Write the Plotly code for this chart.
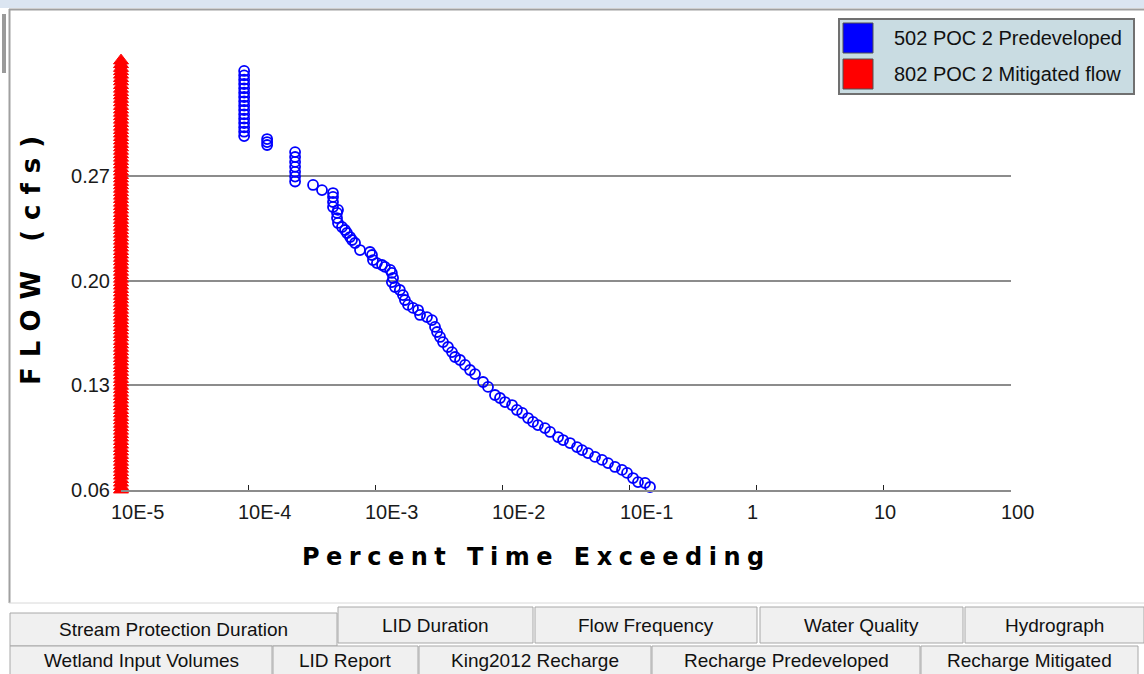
import plotly.graph_objects as go
import numpy as np

# ---------------- data ----------------
series_names = ["502 POC 2 Predeveloped", "802 POC 2 Mitigated flow"]
series_colors = ["#0000ff", "#ff0000"]

pred_percent = [
    1.0e-5,
    9.3e-5, 9.3e-5, 9.3e-5, 9.3e-5, 9.3e-5, 9.3e-5, 9.3e-5, 9.3e-5,
    9.3e-5, 9.3e-5, 9.3e-5, 9.3e-5, 9.3e-5, 9.3e-5, 9.3e-5, 9.3e-5,
    1.41e-4, 1.41e-4, 1.41e-4,
    2.34e-4, 2.34e-4, 2.34e-4, 2.34e-4, 2.34e-4, 2.34e-4, 2.34e-4,
    3.24e-4, 3.81e-4,
    4.65e-4, 4.65e-4, 4.65e-4, 4.65e-4,
    5.09e-4, 5.0e-4, 5.0e-4, 5.09e-4,
    5.47e-4, 5.78e-4, 5.99e-4, 6.33e-4, 6.56e-4, 6.93e-4, 7.58e-4,
    9.09e-4, 9.42e-4, 9.59e-4, 1.03e-3, 1.13e-3, 1.19e-3, 1.31e-3, 1.35e-3,
    1.38e-3, 1.35e-3, 1.43e-3, 1.56e-3,
    1.65e-3, 1.71e-3, 1.81e-3, 1.98e-3, 2.17e-3, 2.25e-3, 2.55e-3, 2.79e-3,
    2.95e-3, 3.06e-3, 3.23e-3, 3.41e-3, 3.73e-3, 4.01e-3, 4.24e-3,
    4.64e-3, 5.08e-3, 5.56e-3, 6.09e-3, 7.04e-3, 7.70e-3, 8.74e-3, 9.57e-3,
    1.048e-2, 1.19e-2, 1.30e-2, 1.43e-2, 1.59e-2, 1.74e-2, 1.90e-2, 2.16e-2,
    2.37e-2, 2.74e-2, 3.00e-2, 3.40e-2, 3.86e-2, 4.23e-2, 4.71e-2, 5.35e-2,
    6.07e-2, 6.77e-2, 7.68e-2, 8.72e-2, 9.55e-2, 0.1064, 0.1165, 0.1323,
    0.1448, 0.1644,
]
pred_flow = [
    0.3430,
    0.3401, 0.3372, 0.3343, 0.3314, 0.3285, 0.3256, 0.3227, 0.3198,
    0.3169, 0.3140, 0.3111, 0.3082, 0.3053, 0.3024, 0.2995, 0.2966,
    0.2946, 0.2926, 0.2906,
    0.2859, 0.2826, 0.2793, 0.2760, 0.2727, 0.2695, 0.2662,
    0.2639, 0.2605,
    0.2585, 0.2559, 0.2525, 0.2492,
    0.2472, 0.2452, 0.2418, 0.2385,
    0.2358, 0.2338, 0.2318, 0.2291, 0.2271, 0.2251, 0.2204,
    0.2191, 0.2171, 0.2137, 0.2117, 0.2104, 0.2091, 0.2071, 0.2051,
    0.2017, 0.1990, 0.1957, 0.1937,
    0.1903, 0.1870, 0.1837, 0.1817, 0.1803, 0.1770, 0.1756, 0.1736,
    0.1690, 0.1656, 0.1623, 0.1589, 0.1556, 0.1522, 0.1489,
    0.1469, 0.1436, 0.1402, 0.1375, 0.1322, 0.1289, 0.1235, 0.1215,
    0.1188, 0.1168, 0.1135, 0.1115, 0.1081, 0.1055, 0.1034, 0.1014,
    0.0988, 0.0954, 0.0934, 0.0914, 0.0887, 0.0867, 0.0847, 0.0821,
    0.0801, 0.0780, 0.0754, 0.0734, 0.0714, 0.0680, 0.0653, 0.0647,
    0.0620, 0.0587,
]

mit_flow = [
    0.3470, 0.3445, 0.3420, 0.3398, 0.3375, 0.3352, 0.3330, 0.3305, 0.3281,
    0.3258, 0.3236, 0.3213, 0.3190, 0.3166, 0.3142, 0.3120, 0.3097, 0.3074,
    0.3051, 0.3027, 0.3004, 0.2981, 0.2958, 0.2935, 0.2912, 0.2889, 0.2866,
    0.2843, 0.2820, 0.2797, 0.2774, 0.2750, 0.2727, 0.2704, 0.2681, 0.2658,
    0.2635, 0.2612, 0.2589, 0.2566, 0.2543, 0.2519, 0.2496, 0.2473, 0.2450,
    0.2427, 0.2404, 0.2381, 0.2358, 0.2335, 0.2312, 0.2288, 0.2265, 0.2242,
    0.2219, 0.2196, 0.2173, 0.2150, 0.2127, 0.2104, 0.2081, 0.2057, 0.2034,
    0.2011, 0.1988, 0.1965, 0.1942, 0.1919, 0.1896, 0.1873, 0.1850, 0.1826,
    0.1803, 0.1780, 0.1757, 0.1734, 0.1711, 0.1688, 0.1665, 0.1642, 0.1619,
    0.1595, 0.1572, 0.1549, 0.1526, 0.1503, 0.1480, 0.1457, 0.1434, 0.1411,
    0.1388, 0.1364, 0.1341, 0.1318, 0.1295, 0.1272, 0.1249, 0.1226, 0.1203,
    0.1180, 0.1157, 0.1133, 0.1110, 0.1087, 0.1064, 0.1041, 0.1018, 0.0995,
    0.0972, 0.0949, 0.0926, 0.0902, 0.0879, 0.0856, 0.0833, 0.0810, 0.0787,
    0.0764, 0.0741, 0.0718, 0.0695, 0.0671, 0.0648, 0.0625, 0.0602,
]
mit_percent = [1.0e-5] * len(mit_flow)

x_tick_vals = [1e-5, 1e-4, 1e-3, 1e-2, 1e-1, 1, 10, 100]
x_tick_text = ["10E-5", "10E-4", "10E-3", "10E-2", "10E-1", "1", "10", "100"]
y_tick_vals = [0.06, 0.13, 0.20, 0.27]
y_tick_text = ["0.06", "0.13", "0.20", "0.27"]

x_title = "Percent Time Exceeding"
y_title = "FLOW (cfs)"

tab_row1 = ["Stream Protection Duration", "LID Duration", "Flow Frequency",
            "Water Quality", "Hydrograph"]
tab_row2 = ["Wetland Input Volumes", "LID Report", "King2012 Recharge",
            "Recharge Predeveloped", "Recharge Mitigated"]

# ---------------- layout geometry (pixels) ----------------
W, H = 1144, 674
PL, PR, PT, PB = 121, 1011, 55, 490
PW, PH = PR - PL, PB - PT
Y_TOP = 0.06 + (PB - PT) / 1496.0


def fx(px):
    return (px - PL) / PW


def fy(py):
    return (PB - py) / PH


fig = go.Figure()

fig.add_trace(go.Scatter(
    x=pred_percent, y=pred_flow, mode="markers", name=series_names[0],
    marker=dict(symbol="circle-open", size=10, color=series_colors[0],
                line=dict(width=1.8, color=series_colors[0])),
    cliponaxis=False, showlegend=False))

fig.add_trace(go.Scatter(
    x=mit_percent, y=mit_flow, mode="markers", name=series_names[1],
    marker=dict(symbol="triangle-up", size=13, color=series_colors[1],
                line=dict(width=1, color=series_colors[1])),
    cliponaxis=False, showlegend=False))

shapes = []
annotations = []

# window chrome
shapes.append(dict(type="rect", xref="paper", yref="paper",
                   x0=fx(0), x1=fx(W), y0=fy(0), y1=fy(8),
                   fillcolor="#dbe5f1", line=dict(width=0), layer="below"))
shapes.append(dict(type="line", xref="paper", yref="paper",
                   x0=fx(9), x1=fx(W), y0=fy(9.5), y1=fy(9.5),
                   line=dict(color="#a0a0a0", width=2)))
shapes.append(dict(type="line", xref="paper", yref="paper",
                   x0=fx(9.5), x1=fx(9.5), y0=fy(9), y1=fy(603),
                   line=dict(color="#a0a0a0", width=2)))
shapes.append(dict(type="rect", xref="paper", yref="paper",
                   x0=fx(2), x1=fx(6), y0=fy(14), y1=fy(73),
                   fillcolor="#9a9a9a", line=dict(width=0)))
shapes.append(dict(type="line", xref="paper", yref="paper",
                   x0=fx(9), x1=fx(W), y0=fy(603), y1=fy(603),
                   line=dict(color="#d8d8d8", width=1)))

# legend box
shapes.append(dict(type="rect", xref="paper", yref="paper",
                   x0=fx(839), x1=fx(1134), y0=fy(19), y1=fy(94),
                   fillcolor="#c9dce2", line=dict(color="#707070", width=2)))
for i, (name, col) in enumerate(zip(series_names, series_colors)):
    top = 23 + i * 36
    shapes.append(dict(type="rect", xref="paper", yref="paper",
                       x0=fx(843), x1=fx(873), y0=fy(top), y1=fy(top + 30),
                       fillcolor=col, line=dict(color="#505050", width=1)))
    annotations.append(dict(text=name, xref="paper", yref="paper",
                            x=fx(892), y=fy(top + 15), xanchor="left",
                            yanchor="middle", showarrow=False,
                            font=dict(family="Liberation Sans", size=20,
                                      color="#111111")))

# x tick labels (left-aligned slightly before each tick, as in the reference)
for v, t in zip(x_tick_vals, x_tick_text):
    annotations.append(dict(text=t, xref="x", yref="paper", x=np.log10(v),
                            y=0, xanchor="left", yanchor="top", xshift=-12,
                            yshift=-9, showarrow=False,
                            font=dict(family="Liberation Sans", size=20,
                                      color="#1a1a1a")))

# axis titles
annotations.append(dict(
    text='<span style="letter-spacing:6.5px">' + x_title + '</span>',
    xref="paper", yref="paper", x=fx(536), y=fy(557), xanchor="center",
    yanchor="middle", showarrow=False,
    font=dict(family="DejaVu Sans", size=24, color="#000000", weight="bold")))
annotations.append(dict(
    text='<span style="letter-spacing:10px">' + y_title + '</span>',
    xref="paper", yref="paper", x=fx(31), y=fy(256), xanchor="center",
    yanchor="middle", textangle=-90, showarrow=False,
    font=dict(family="DejaVu Sans", size=26, color="#000000", weight="bold")))

# tabs
row1_edges = [(10, 337, 613, 646), (338, 533, 607, 643), (535, 757, 607, 643),
              (760, 963, 607, 643), (965, 1144, 607, 643)]
row2_edges = [(10, 272, 646, 680), (273, 418, 646, 680), (419, 651, 646, 680),
              (652, 920, 646, 680), (921, 1138, 646, 680)]
row1_text_y = [629, 625, 625, 625, 625]
row2_text_y = [660, 660, 660, 660, 660]
for labels, edges, tys in ((tab_row1, row1_edges, row1_text_y),
                           (tab_row2, row2_edges, row2_text_y)):
    for lab, (x0, x1, y0, y1), ty in zip(labels, edges, tys):
        shapes.append(dict(type="rect", xref="paper", yref="paper",
                           x0=fx(x0), x1=fx(x1), y0=fy(y0), y1=fy(y1),
                           fillcolor="#f0f0f0",
                           line=dict(color="#a8a8a8", width=1)))
        annotations.append(dict(text=lab, xref="paper", yref="paper",
                                x=fx((x0 + x1) / 2), y=fy(ty),
                                xanchor="center", yanchor="middle",
                                showarrow=False,
                                font=dict(family="Liberation Sans", size=19,
                                          color="#111111")))

fig.update_layout(
    width=W, height=H,
    margin=dict(l=PL, r=W - PR, t=PT, b=H - PB, pad=0),
    paper_bgcolor="#ffffff", plot_bgcolor="#ffffff",
    showlegend=False,
    shapes=shapes, annotations=annotations,
    xaxis=dict(type="log", range=[-5, 2], tickvals=x_tick_vals,
               showticklabels=False, ticks="inside", ticklen=5,
               tickcolor="#222222", tickwidth=1, showgrid=False,
               showline=True, linecolor="#8c8c8c", linewidth=2,
               zeroline=False, fixedrange=True),
    yaxis=dict(range=[0.06, Y_TOP], tickvals=y_tick_vals,
               ticktext=y_tick_text, ticks="", showgrid=True,
               gridcolor="#8c8c8c", gridwidth=2, zeroline=False,
               showline=False, ticklabelstandoff=10,
               tickfont=dict(family="Liberation Sans", size=20,
                             color="#1a1a1a"), fixedrange=True),
)

fig.write_html(
    "out.html",
    config={"displayModeBar": False},
    post_script="document.body.style.margin='0px';"
                "document.body.style.padding='0px';"
                "document.body.style.overflow='hidden';",
)
